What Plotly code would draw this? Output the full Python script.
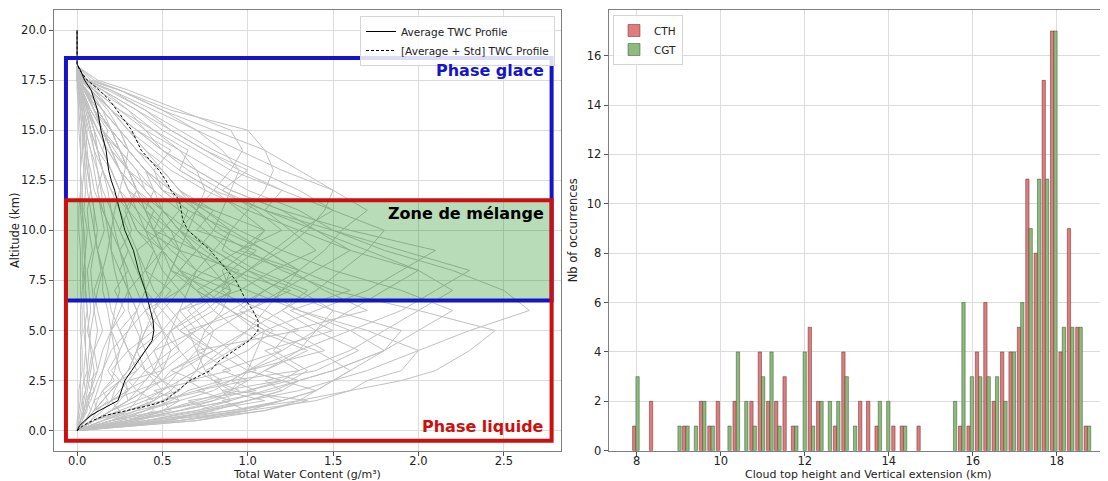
import plotly.graph_objects as go

# altitude levels (km) of the individual TWC profiles
profile_alt = [0, 0.5, 1, 1.5, 2, 2.5, 3, 4, 5, 6, 7, 8, 9, 10, 11, 12, 13, 14, 15, 16, 17, 17.5, 18.2]

# TWC (g/m3) of each profile
profiles_strong = [
    [0, 0.4, 0.9, 1.3, 1.6, 1.9, 2.1, 2.3, 2.45, 2.0, 1.5, 1.2, 1.0, 0.8, 0.7, 0.55, 0.4, 0.3, 0.2, 0.12, 0.05, 0.02, 0],
    [0, 0.3, 0.7, 1.0, 1.3, 1.5, 1.7, 2.0, 2.3, 2.65, 2.5, 2.2, 1.8, 1.5, 1.3, 1.0, 0.8, 0.6, 0.4, 0.25, 0.1, 0.03, 0],
    [0, 0.2, 0.5, 0.8, 1.0, 1.2, 1.3, 1.6, 1.8, 2.0, 2.2, 2.0, 1.7, 1.4, 1.2, 0.9, 0.7, 0.5, 0.35, 0.2, 0.08, 0.02, 0],
    [0, 0.1, 0.3, 0.5, 0.7, 0.9, 1.0, 1.3, 1.6, 1.9, 2.1, 2.3, 1.9, 1.5, 1.1, 0.8, 0.6, 0.45, 0.3, 0.2, 0.1, 0.03, 0],
    [0, 0.1, 0.2, 0.35, 0.5, 0.6, 0.7, 0.9, 1.1, 1.4, 1.7, 1.9, 2.1, 1.6, 1.2, 0.9, 0.7, 0.5, 0.35, 0.2, 0.08, 0.02, 0],
    [0, 0.5, 1.0, 1.2, 1.4, 1.5, 1.6, 1.8, 1.9, 1.5, 1.2, 1.0, 0.8, 0.6, 0.5, 0.4, 0.3, 0.2, 0.15, 0.08, 0.03, 0.01, 0],
    [0, 0.6, 1.0, 1.4, 1.6, 1.7, 1.9, 2.0, 1.7, 1.3, 1.0, 0.7, 0.55, 0.45, 0.35, 0.25, 0.2, 0.12, 0.08, 0.05, 0.02, 0, 0],
    [0, 0.05, 0.1, 0.2, 0.3, 0.35, 0.4, 0.55, 0.7, 0.9, 1.1, 1.3, 1.45, 1.55, 1.7, 1.5, 1.2, 0.95, 0.7, 0.45, 0.2, 0.05, 0],
    [0, 0.05, 0.1, 0.15, 0.2, 0.25, 0.3, 0.4, 0.5, 0.6, 0.8, 1.0, 1.2, 1.35, 1.45, 1.5, 1.3, 1.1, 0.8, 0.5, 0.25, 0.08, 0],
    [0, 0.1, 0.2, 0.3, 0.4, 0.5, 0.6, 0.8, 1.0, 1.2, 1.4, 1.55, 1.7, 1.8, 1.5, 1.2, 0.95, 0.75, 0.55, 0.35, 0.15, 0.04, 0],
    [0, 0.2, 0.4, 0.6, 0.8, 0.9, 1.0, 1.2, 1.4, 1.6, 1.8, 2.0, 1.6, 1.3, 1.0, 0.75, 0.55, 0.4, 0.3, 0.2, 0.1, 0.02, 0],
    [0, 0.5, 0.8, 1.0, 1.2, 1.3, 1.5, 1.8, 1.6, 1.3, 1.1, 0.9, 0.7, 0.55, 0.45, 0.35, 0.25, 0.18, 0.12, 0.07, 0.03, 0, 0],
    [0, 0.3, 0.6, 0.9, 1.1, 1.3, 1.5, 1.8, 2.0, 2.2, 1.9, 1.5, 1.2, 0.95, 0.75, 0.55, 0.4, 0.3, 0.2, 0.12, 0.05, 0.01, 0],
    [0, 0.05, 0.1, 0.2, 0.25, 0.3, 0.35, 0.45, 0.55, 0.7, 0.85, 1.0, 1.15, 1.3, 1.5, 1.3, 1.05, 0.8, 0.6, 0.4, 0.18, 0.05, 0],
]

profiles_medium = [
    [0, 0.6, 1.1, 1.35, 0.9, 0.8, 0.7, 0.6, 0.5, 0.4, 0.35, 0.3, 0.25, 0.2, 0.15, 0.1, 0.08, 0.05, 0.03, 0.02, 0.01, 0, 0],
    [0, 0.5, 0.9, 1.2, 1.4, 1.5, 1.6, 1.4, 1.1, 0.9, 0.7, 0.6, 0.5, 0.4, 0.3, 0.25, 0.2, 0.15, 0.1, 0.06, 0.02, 0, 0],
    [0, 0.2, 0.5, 0.7, 0.9, 1.0, 1.1, 1.3, 1.4, 1.5, 1.3, 1.0, 0.8, 0.65, 0.5, 0.4, 0.3, 0.22, 0.15, 0.1, 0.04, 0.01, 0],
    [0, 0.15, 0.3, 0.45, 0.55, 0.6, 0.7, 0.85, 1.0, 1.1, 1.2, 1.3, 1.1, 0.9, 0.75, 0.6, 0.5, 0.4, 0.3, 0.2, 0.1, 0.03, 0],
    [0, 0.05, 0.1, 0.15, 0.2, 0.25, 0.3, 0.35, 0.4, 0.5, 0.6, 0.7, 0.8, 0.9, 1.0, 1.1, 1.15, 1.1, 1.0, 0.55, 0.25, 0.1, 0],
    [0, 0.3, 0.6, 0.8, 0.9, 0.95, 1.0, 1.05, 1.1, 0.9, 0.75, 0.6, 0.5, 0.45, 0.4, 0.3, 0.25, 0.2, 0.15, 0.1, 0.05, 0.01, 0],
    [0, 0.7, 1.1, 1.3, 1.4, 1.2, 1.0, 0.8, 0.6, 0.5, 0.4, 0.35, 0.3, 0.25, 0.2, 0.15, 0.12, 0.08, 0.05, 0.03, 0.01, 0, 0],
    [0, 0.1, 0.2, 0.3, 0.4, 0.45, 0.5, 0.65, 0.8, 1.0, 1.2, 1.4, 1.6, 1.4, 1.1, 0.85, 0.65, 0.5, 0.4, 0.3, 0.15, 0.05, 0],
    [0, 0.02, 0.05, 0.08, 0.1, 0.12, 0.15, 0.2, 0.3, 0.4, 0.5, 0.6, 0.7, 0.8, 0.85, 0.9, 0.95, 0.85, 0.7, 0.5, 0.25, 0.06, 0],
    [0, 0.02, 0.04, 0.06, 0.08, 0.1, 0.12, 0.15, 0.2, 0.25, 0.3, 0.4, 0.5, 0.6, 0.7, 0.8, 0.9, 0.97, 0.9, 0.6, 0.3, 0.12, 0],
    [0, 0.2, 0.4, 0.5, 0.6, 0.65, 0.7, 0.75, 0.8, 0.7, 0.6, 0.5, 0.45, 0.4, 0.35, 0.3, 0.25, 0.2, 0.15, 0.1, 0.05, 0.01, 0],
    [0, 0.1, 0.2, 0.3, 0.35, 0.4, 0.45, 0.5, 0.55, 0.6, 0.65, 0.7, 0.6, 0.5, 0.4, 0.35, 0.3, 0.25, 0.2, 0.12, 0.05, 0.01, 0],
    [0, 0.4, 0.7, 0.9, 0.85, 0.8, 0.75, 0.7, 0.65, 0.55, 0.45, 0.4, 0.35, 0.3, 0.25, 0.2, 0.15, 0.12, 0.08, 0.05, 0.02, 0, 0],
    [0, 0.1, 0.25, 0.4, 0.5, 0.55, 0.6, 0.7, 0.75, 0.85, 0.9, 0.8, 0.7, 0.6, 0.5, 0.45, 0.4, 0.3, 0.25, 0.15, 0.06, 0.01, 0],
]

profiles_jagged = [
    [0, 0.35, 0.6, 0.9, 0.7, 1.0, 0.85, 1.2, 0.95, 0.8, 0.9, 0.6, 0.7, 0.45, 0.5, 0.35, 0.3, 0.2, 0.15, 0.08, 0.03, 0.01, 0],
    [0, 0.25, 0.55, 0.5, 0.75, 0.65, 0.9, 0.7, 1.3, 1.1, 0.8, 0.95, 0.6, 0.55, 0.4, 0.45, 0.3, 0.25, 0.12, 0.07, 0.02, 0, 0],
    [0, 0.15, 0.35, 0.6, 0.45, 0.7, 0.55, 0.8, 0.65, 1.0, 1.25, 0.9, 1.05, 0.7, 0.8, 0.5, 0.4, 0.3, 0.2, 0.1, 0.04, 0.01, 0],
    [0, 0.45, 0.8, 0.65, 1.05, 0.9, 1.3, 1.1, 1.5, 1.25, 1.6, 1.3, 0.95, 1.1, 0.8, 0.6, 0.5, 0.35, 0.25, 0.15, 0.05, 0.01, 0],
    [0, 0.1, 0.25, 0.2, 0.35, 0.3, 0.5, 0.45, 0.7, 0.6, 0.95, 1.15, 1.4, 1.25, 1.1, 1.2, 0.9, 0.7, 0.5, 0.35, 0.15, 0.04, 0],
    [0, 0.55, 0.75, 1.1, 0.85, 1.2, 1.0, 1.45, 1.25, 1.7, 1.45, 1.25, 0.9, 0.75, 0.6, 0.45, 0.35, 0.25, 0.15, 0.08, 0.03, 0, 0],
    [0, 0.05, 0.12, 0.1, 0.18, 0.25, 0.2, 0.3, 0.45, 0.4, 0.6, 0.75, 0.95, 1.2, 1.05, 0.85, 1.0, 0.75, 0.55, 0.4, 0.2, 0.05, 0],
    [0, 0.3, 0.45, 0.4, 0.6, 0.5, 0.55, 0.75, 0.6, 0.8, 0.7, 0.9, 0.75, 0.6, 0.65, 0.5, 0.45, 0.55, 0.35, 0.2, 0.08, 0.02, 0],
    [0, 0.2, 0.3, 0.45, 0.35, 0.5, 0.4, 0.35, 0.5, 0.45, 0.55, 0.4, 0.45, 0.35, 0.3, 0.35, 0.25, 0.2, 0.15, 0.1, 0.05, 0.01, 0],
    [0, 0.15, 0.25, 0.2, 0.3, 0.25, 0.35, 0.3, 0.25, 0.35, 0.3, 0.25, 0.3, 0.25, 0.3, 0.25, 0.2, 0.15, 0.18, 0.1, 0.05, 0.01, 0],
    [0, 0.08, 0.12, 0.18, 0.15, 0.22, 0.18, 0.25, 0.2, 0.28, 0.22, 0.3, 0.25, 0.32, 0.28, 0.35, 0.3, 0.25, 0.2, 0.12, 0.05, 0.01, 0],
    [0, 0.6, 0.95, 1.2, 1.0, 1.25, 1.35, 1.15, 1.25, 1.0, 0.85, 0.9, 0.7, 0.6, 0.5, 0.4, 0.35, 0.25, 0.15, 0.1, 0.04, 0.01, 0],
    [0, 0.4, 0.75, 1.0, 1.2, 1.1, 1.4, 1.65, 1.4, 1.2, 1.35, 1.05, 0.85, 0.9, 0.65, 0.5, 0.4, 0.3, 0.2, 0.12, 0.05, 0.01, 0],
    [0, 0.35, 0.5, 0.75, 0.95, 0.8, 1.05, 0.9, 0.75, 0.65, 0.8, 0.55, 0.6, 0.4, 0.45, 0.3, 0.25, 0.18, 0.12, 0.06, 0.02, 0, 0],
    [0, 0.25, 0.4, 0.55, 0.65, 0.85, 0.75, 1.0, 1.15, 0.95, 1.1, 1.3, 1.1, 0.85, 0.7, 0.6, 0.5, 0.35, 0.25, 0.15, 0.06, 0.01, 0],
    [0, 0.1, 0.2, 0.3, 0.28, 0.4, 0.45, 0.6, 0.55, 0.75, 0.9, 0.85, 1.0, 1.1, 0.95, 0.8, 0.6, 0.65, 0.45, 0.25, 0.1, 0.03, 0],
    [0, 0.7, 1.0, 0.85, 1.15, 1.3, 1.1, 1.35, 1.05, 0.9, 0.7, 0.55, 0.5, 0.35, 0.3, 0.2, 0.15, 0.1, 0.07, 0.04, 0.02, 0, 0],
]

profiles_weak = [
    [0, 0.3, 0.5, 0.6, 0.55, 0.5, 0.45, 0.4, 0.35, 0.3, 0.3, 0.25, 0.2, 0.2, 0.15, 0.12, 0.1, 0.08, 0.05, 0.03, 0.01, 0, 0],
    [0, 0.05, 0.1, 0.15, 0.2, 0.25, 0.3, 0.35, 0.4, 0.45, 0.5, 0.55, 0.6, 0.65, 0.7, 0.75, 0.7, 0.6, 0.45, 0.3, 0.12, 0.03, 0],
    [0, 0.15, 0.3, 0.35, 0.4, 0.45, 0.5, 0.55, 0.5, 0.45, 0.4, 0.38, 0.35, 0.5, 0.6, 0.55, 0.45, 0.35, 0.25, 0.15, 0.05, 0.01, 0],
    [0, 0.05, 0.1, 0.12, 0.15, 0.2, 0.22, 0.25, 0.3, 0.35, 0.4, 0.45, 0.5, 0.45, 0.4, 0.35, 0.3, 0.25, 0.2, 0.15, 0.08, 0.02, 0],
    [0, 0.1, 0.2, 0.25, 0.3, 0.28, 0.25, 0.22, 0.2, 0.18, 0.15, 0.15, 0.12, 0.1, 0.1, 0.08, 0.06, 0.05, 0.04, 0.03, 0.02, 0, 0],
    [0, 0.05, 0.08, 0.1, 0.12, 0.14, 0.15, 0.18, 0.2, 0.22, 0.25, 0.22, 0.2, 0.18, 0.16, 0.14, 0.12, 0.1, 0.08, 0.06, 0.03, 0.01, 0],
    [0, 0.02, 0.04, 0.05, 0.06, 0.07, 0.08, 0.1, 0.12, 0.1, 0.09, 0.08, 0.1, 0.12, 0.1, 0.08, 0.07, 0.06, 0.05, 0.04, 0.02, 0, 0],
    [0, 0.03, 0.05, 0.07, 0.08, 0.09, 0.1, 0.08, 0.07, 0.06, 0.05, 0.05, 0.04, 0.04, 0.03, 0.03, 0.02, 0.02, 0.02, 0.01, 0.01, 0, 0],
    [0, 0.01, 0.02, 0.03, 0.03, 0.04, 0.04, 0.05, 0.05, 0.04, 0.04, 0.03, 0.03, 0.03, 0.02, 0.02, 0.02, 0.02, 0.01, 0.01, 0, 0, 0],
    [0, 0.08, 0.15, 0.2, 0.22, 0.25, 0.3, 0.35, 0.38, 0.35, 0.3, 0.28, 0.25, 0.22, 0.2, 0.18, 0.15, 0.12, 0.1, 0.06, 0.03, 0.01, 0],
    [0, 0.2, 0.35, 0.45, 0.5, 0.45, 0.4, 0.3, 0.25, 0.2, 0.18, 0.15, 0.12, 0.1, 0.08, 0.06, 0.05, 0.04, 0.03, 0.02, 0.01, 0, 0],
    [0, 0.02, 0.03, 0.04, 0.05, 0.06, 0.06, 0.07, 0.08, 0.1, 0.12, 0.15, 0.18, 0.2, 0.22, 0.25, 0.28, 0.3, 0.25, 0.18, 0.08, 0.02, 0],
    [0, 0.01, 0.01, 0.02, 0.02, 0.02, 0.03, 0.03, 0.02, 0.02, 0.03, 0.04, 0.05, 0.04, 0.03, 0.03, 0.04, 0.05, 0.04, 0.03, 0.02, 0.01, 0],
    [0, 0.0, 0.01, 0.01, 0.01, 0.02, 0.02, 0.02, 0.03, 0.03, 0.02, 0.02, 0.02, 0.01, 0.01, 0.02, 0.02, 0.03, 0.03, 0.02, 0.01, 0, 0],
    [0, 0.05, 0.08, 0.06, 0.1, 0.08, 0.12, 0.1, 0.15, 0.12, 0.1, 0.14, 0.12, 0.16, 0.14, 0.12, 0.15, 0.12, 0.1, 0.07, 0.03, 0.01, 0],
    [0, 0.03, 0.06, 0.05, 0.08, 0.06, 0.07, 0.09, 0.06, 0.08, 0.07, 0.06, 0.09, 0.07, 0.06, 0.08, 0.06, 0.05, 0.06, 0.04, 0.02, 0.01, 0],
    [0, 0.02, 0.04, 0.03, 0.05, 0.04, 0.06, 0.05, 0.04, 0.06, 0.05, 0.04, 0.05, 0.06, 0.04, 0.05, 0.04, 0.03, 0.04, 0.03, 0.01, 0, 0],
]

# mean profile and mean + std
mean_alt = [0, 0.25, 0.5, 0.75, 1, 1.25, 1.5, 1.75, 2, 2.5, 3, 3.5, 4, 4.5, 5, 5.5, 6, 6.5, 7, 7.5, 8, 9, 10,
            10.5, 11, 11.5, 12, 12.5, 13, 14, 15, 16, 16.5, 17, 17.5, 18, 18.3, 19, 20]
mean_twc = [0, 0.015, 0.045, 0.08, 0.13, 0.19, 0.24, 0.25, 0.26, 0.28, 0.32, 0.36, 0.405, 0.44, 0.45, 0.445,
            0.43, 0.415, 0.4, 0.38, 0.36, 0.33, 0.28, 0.265, 0.25, 0.235, 0.22, 0.2, 0.185, 0.17, 0.14, 0.12,
            0.1, 0.083, 0.044, 0.02, 0, 0, 0]
std_twc = [0, 0.035, 0.09, 0.16, 0.29, 0.42, 0.52, 0.55, 0.59, 0.66, 0.78, 0.835, 0.92, 1.01, 1.06, 1.06,
           1.03, 0.99, 0.96, 0.93, 0.88, 0.78, 0.65, 0.62, 0.61, 0.6, 0.55, 0.52, 0.48, 0.376, 0.32, 0.23,
           0.19, 0.13, 0.06, 0.015, 0, 0, 0]

# phase zones (altitude km)
glace_zone = (6.5, 18.6)
liquide_zone = (-0.5, 11.5)
melange_zone = (6.5, 11.5)
zone_twc = (-0.065, 2.78)

# histogram of cloud top height (CTH) and CGT
bin_km = [7.98, 8.38, 8.98, 9.17, 9.37, 9.57, 9.77, 9.97, 10.17, 10.37, 10.57, 10.77, 10.97, 11.17, 11.36,
          11.56, 11.76, 11.96, 12.16, 12.36, 12.56, 12.76, 12.96, 13.16, 13.36, 13.55, 13.75, 13.95, 14.15,
          14.35, 14.75, 15.54, 15.74, 15.94, 16.14, 16.34, 16.54, 16.74, 16.94, 17.14, 17.34, 17.54, 17.73,
          17.93, 18.13, 18.33, 18.53, 18.73]
cth_counts = [1, 2, 0, 1, 0, 2, 1, 2, 0, 2, 0, 2, 4, 2, 2, 3, 1, 0, 5, 2, 0, 1, 4, 0, 2, 2, 1, 0, 1, 1, 1,
              0, 1, 1, 4, 6, 2, 4, 4, 5, 11, 8, 15, 17, 4, 9, 5, 1]
cgt_counts = [3, 0, 1, 1, 1, 2, 1, 0, 1, 4, 2, 1, 3, 4, 1, 0, 1, 4, 1, 2, 2, 2, 3, 1, 0, 0, 2, 2, 0, 1, 0,
              2, 6, 3, 3, 3, 3, 2, 4, 6, 9, 11, 11, 17, 5, 5, 5, 1]

FONT = "DejaVu Sans"
# the page body adds an 8px margin, so the figure is 8px smaller than the window
W, H = 1100, 473
OFF = 8


def px_x(p):
    return (p - OFF) / W


def px_y(p):
    return 1 - (p - OFF) / H


fig = go.Figure()

for group in (profiles_strong, profiles_medium, profiles_jagged, profiles_weak):
    for prof in group:
        fig.add_trace(go.Scatter(x=prof, y=profile_alt, mode='lines',
                                 line=dict(color='#c0c0c0', width=1),
                                 showlegend=False, hoverinfo='skip'))

fig.add_trace(go.Scatter(x=mean_twc, y=mean_alt, mode='lines', name='Average TWC Profile',
                         line=dict(color='black', width=1)))
fig.add_trace(go.Scatter(x=std_twc, y=mean_alt, mode='lines', name='[Average + Std] TWC Profile',
                         line=dict(color='black', width=1, dash='3px,2px')))

bar_w = 0.079
fig.add_trace(go.Bar(x=bin_km, y=[c if c else None for c in cth_counts], name='CTH',
                     width=bar_w, offset=-bar_w, xaxis='x2', yaxis='y2', legend='legend2',
                     marker=dict(color='#e27b7b', line=dict(color='rgba(90,40,40,0.7)', width=0.7))))
fig.add_trace(go.Bar(x=bin_km, y=[c if c else None for c in cgt_counts], name='CGT',
                     width=bar_w, offset=0, xaxis='x2', yaxis='y2', legend='legend2',
                     marker=dict(color='#8dbb7e', line=dict(color='rgba(50,80,40,0.7)', width=0.7))))

shapes = [
    dict(type='rect', xref='x', yref='y', x0=zone_twc[0], x1=zone_twc[1],
         y0=melange_zone[0], y1=melange_zone[1], fillcolor='rgba(0,128,0,0.28)', line=dict(width=0)),
    dict(type='rect', xref='x', yref='y', x0=zone_twc[0], x1=zone_twc[1],
         y0=glace_zone[0], y1=glace_zone[1], line=dict(color='#1414c8', width=4)),
    dict(type='rect', xref='x', yref='y', x0=zone_twc[0], x1=zone_twc[1],
         y0=liquide_zone[0], y1=liquide_zone[1], line=dict(color='#cc1010', width=4)),
]

annotations = [
    dict(text='<b>Phase glace</b>', x=2.745, y=18.0, xref='x', yref='y', xanchor='right', yanchor='middle',
         showarrow=False, font=dict(size=16, color='#1414c8', family=FONT)),
    dict(text='<b>Zone de mélange</b>', x=2.745, y=10.85, xref='x', yref='y', xanchor='right',
         yanchor='middle', showarrow=False, font=dict(size=16, color='black', family=FONT)),
    dict(text='<b>Phase liquide</b>', x=2.745, y=0.2, xref='x', yref='y', xanchor='right', yanchor='middle',
         showarrow=False, font=dict(size=16, color='#cc1010', family=FONT)),
    # x axis titles, placed just under the tick labels
    dict(text='Total Water Content (g/m³)', x=px_x(307), y=px_y(474), xref='paper', yref='paper',
         xanchor='center', yanchor='middle', showarrow=False, font=dict(size=11, color='#222222')),
    dict(text='Cloud top height and Vertical extension (km)', x=px_x(868), y=px_y(474), xref='paper',
         yref='paper', xanchor='center', yanchor='middle', showarrow=False,
         font=dict(size=11, color='#222222')),
]

ybot = px_y(450.7)
ytop = px_y(10)
axis_style = dict(showline=True, mirror=True, linecolor='#7f7f7f', linewidth=1, ticks='outside',
                  ticklen=4, tickcolor='#555555', showgrid=True, gridcolor='#dcdcdc', zeroline=False,
                  tickfont=dict(size=11.5, color='#222222'), automargin=False)

fig.update_layout(
    width=W, height=H, margin=dict(l=0, r=0, t=0, b=0),
    paper_bgcolor='white', plot_bgcolor='white',
    font=dict(family=FONT, color='#222222'),
    barmode='overlay',
    shapes=shapes, annotations=annotations,
    xaxis=dict(domain=[px_x(54), px_x(561)], range=[-0.135, 2.835], tickvals=[0, 0.5, 1, 1.5, 2, 2.5],
               tickformat='.1f', anchor='y', ticklabelstandoff=-5, **axis_style),
    yaxis=dict(domain=[ybot, ytop], range=[-1, 21], tickvals=[0, 2.5, 5, 7.5, 10, 12.5, 15, 17.5, 20],
               tickformat='.1f', anchor='x',
               title=dict(text='Altitude (km)', font=dict(size=11.5), standoff=4), **axis_style),
    xaxis2=dict(domain=[px_x(608.6), 1.0], range=[7.33, 19.22], tickvals=[8, 10, 12, 14, 16, 18], anchor='y2',
                ticklabelstandoff=-5, **axis_style),
    yaxis2=dict(domain=[ybot, ytop], range=[0, 17.85], tickvals=list(range(0, 17, 2)), anchor='x2',
                title=dict(text='Nb of occurrences', font=dict(size=11.5), standoff=6), **axis_style),
    legend=dict(x=px_x(555), xanchor='right', y=px_y(16), yanchor='top', bgcolor='rgba(255,255,255,0.85)',
                bordercolor='#d5d5d5', borderwidth=1, font=dict(size=10.5), tracegroupgap=0),
    legend2=dict(x=px_x(613), xanchor='left', y=px_y(15), yanchor='top', bgcolor='rgba(255,255,255,0.85)',
                 bordercolor='#d5d5d5', borderwidth=1, font=dict(size=10.5)),
)

fig.write_html("out.html")
